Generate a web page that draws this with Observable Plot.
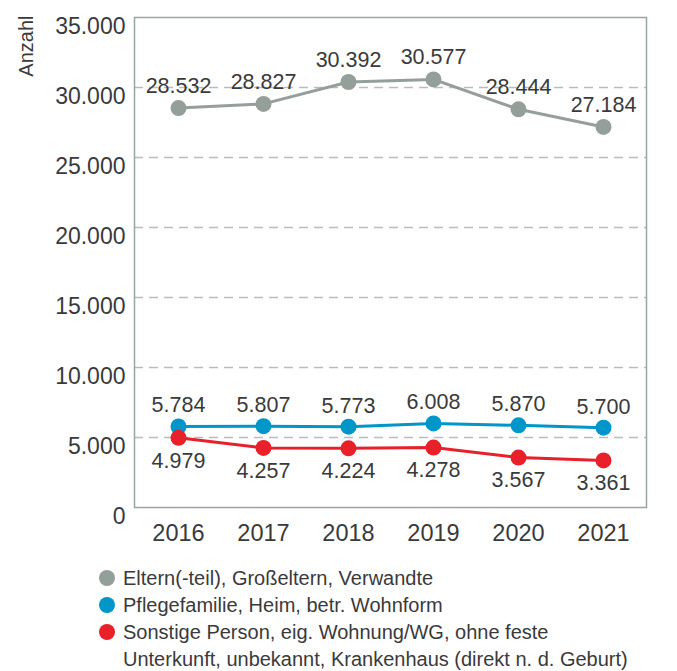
<!DOCTYPE html>
<html>
<head>
<meta charset="utf-8">
<script src="https://cdn.jsdelivr.net/npm/d3@7"></script>
<script src="https://cdn.jsdelivr.net/npm/@observablehq/plot@0.6"></script>
<style>
  body { margin: 0; background: #fff; font-family: "Liberation Sans", Arial, sans-serif; color: #3a3a3a; }
  #chart { width: 677px; }
  .legend { margin: 10px 0 0 99px; font-size: 20px; line-height: 27px; color: #3a3a3a; white-space: pre-line; }
  .legend .row { display: flex; align-items: flex-start; }
  .legend .sw { width: 16px; height: 16px; border-radius: 50%; flex: none; margin: 5px 8px 0 0; }
</style>
</head>
<body>
<div id="chart"></div>
<script>
const years = ["2016", "2017", "2018", "2019", "2020", "2021"];
const eltern = [28532, 28827, 30392, 30577, 28444, 27184];
const pflege = [5784, 5807, 5773, 6008, 5870, 5700];
const sonstige = [4979, 4257, 4224, 4278, 3567, 3361];
const yTicks = [0, 5000, 10000, 15000, 20000, 25000, 30000, 35000];
const gridTicks = [5000, 10000, 15000, 20000, 25000, 30000];
const seriesNames = [
  "Eltern(-teil), Großeltern, Verwandte",
  "Pflegefamilie, Heim, betr. Wohnform",
  "Sonstige Person, eig. Wohnung/WG, ohne feste\nUnterkunft, unbekannt, Krankenhaus (direkt n. d. Geburt)"
];
const colors = ["#959f99", "#0096c9", "#e8202a"];

const de = d3.formatLocale({decimal: ",", thousands: ".", grouping: [3], currency: ["", " €"]});
const fmt = de.format(",");

const mk = (vals) => years.map((y, i) => ({year: y, value: vals[i]}));
const dE = mk(eltern), dP = mk(pflege), dS = mk(sonstige);

const textCol = "#3a3a3a";
const plot = Plot.plot({
  width: 677,
  height: 555,
  marginLeft: 134,
  marginRight: 31,
  marginTop: 17,
  marginBottom: 48,
  style: {fontFamily: "'Liberation Sans', Arial, sans-serif", color: textCol, background: "#fff"},
  x: {type: "point", domain: years, padding: 0.5},
  y: {domain: [0, 35000]},
  marks: [
    Plot.gridY(gridTicks, {stroke: "#b8bdb9", strokeOpacity: 1, strokeDasharray: "9,6", strokeWidth: 1.3}),
    Plot.frame({stroke: "#9aa59f", strokeWidth: 1.5}),
    Plot.axisY(yTicks, {tickSize: 0, tickPadding: 9, dy: 9, fontSize: 23, tickFormat: fmt, label: null, fill: textCol}),
    Plot.axisX({tickSize: 0, tickPadding: 17, fontSize: 23.5, label: null, fill: textCol}),
    Plot.text(["Anzahl"], {frameAnchor: "top-left", dx: -116, dy: -2, rotate: -90, textAnchor: "end", fontSize: 20, fill: textCol}),
    Plot.line(dE, {x: "year", y: "value", stroke: colors[0], strokeWidth: 3}),
    Plot.line(dP, {x: "year", y: "value", stroke: colors[1], strokeWidth: 3}),
    Plot.line(dS, {x: "year", y: "value", stroke: colors[2], strokeWidth: 3}),
    Plot.dot(dE, {x: "year", y: "value", r: 8, fill: colors[0]}),
    Plot.dot(dP, {x: "year", y: "value", r: 8, fill: colors[1]}),
    Plot.dot(dS, {x: "year", y: "value", r: 8, fill: colors[2]}),
    Plot.text(dE, {x: "year", y: "value", text: d => fmt(d.value), dy: -22, fontSize: 21.5, fill: textCol}),
    Plot.text(dP, {x: "year", y: "value", text: d => fmt(d.value), dy: -21, fontSize: 21.5, fill: textCol}),
    Plot.text(dS, {x: "year", y: "value", text: d => fmt(d.value), dy: 23, fontSize: 21.5, fill: textCol})
  ]
});
document.getElementById("chart").appendChild(plot);

const leg = document.createElement("div");
leg.className = "legend";
seriesNames.forEach((n, i) => {
  const row = document.createElement("div");
  row.className = "row";
  const sw = document.createElement("span");
  sw.className = "sw";
  sw.style.background = colors[i];
  const t = document.createElement("span");
  t.textContent = n;
  row.appendChild(sw);
  row.appendChild(t);
  leg.appendChild(row);
});
document.getElementById("chart").appendChild(leg);
</script>
</body>
</html>
